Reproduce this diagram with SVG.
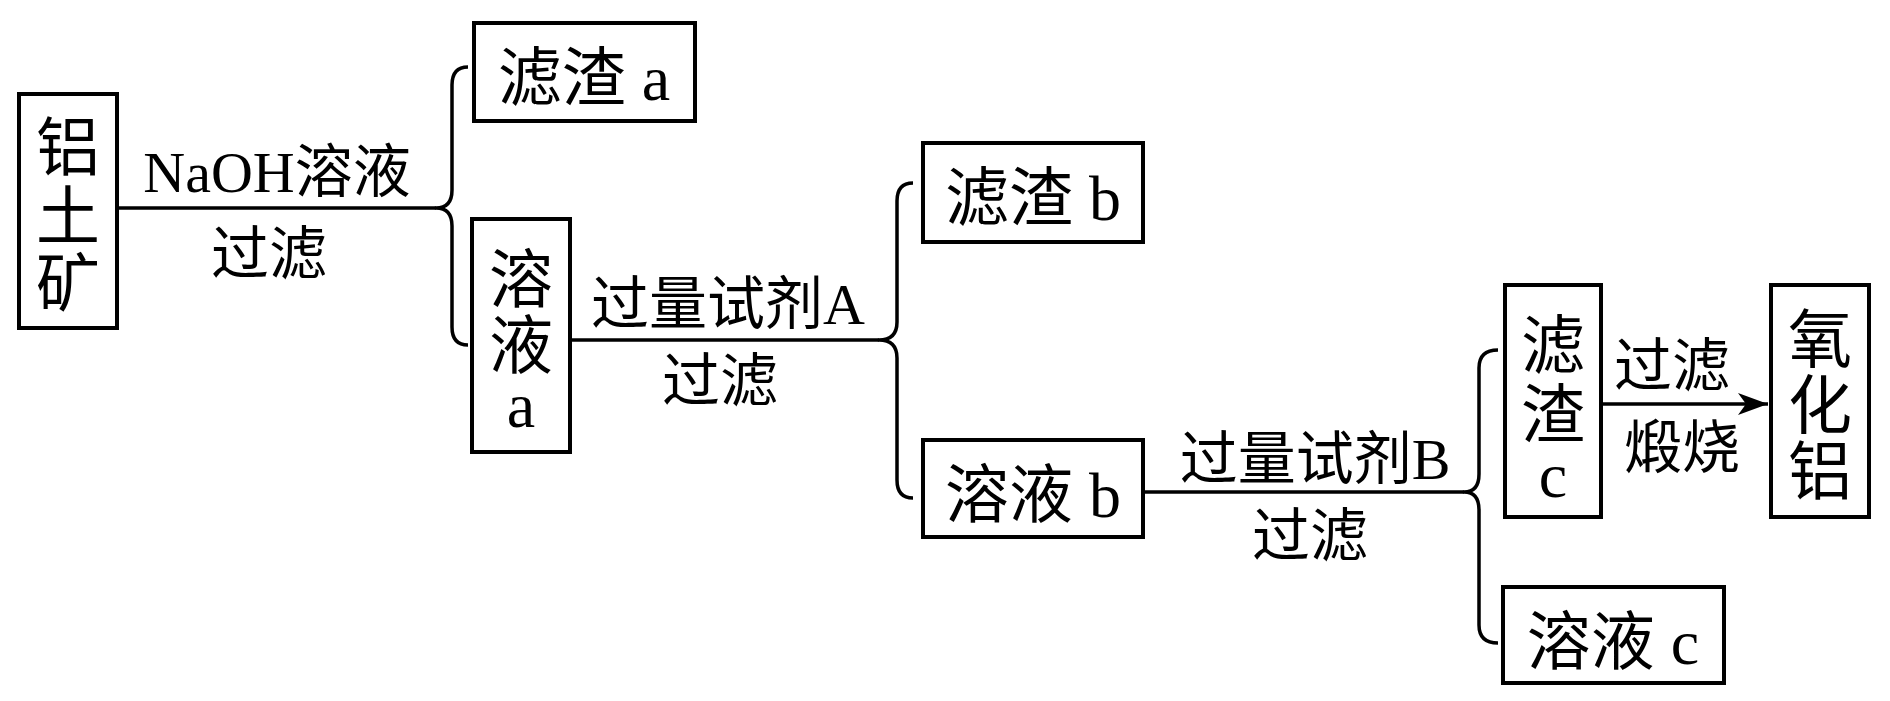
<svg xmlns="http://www.w3.org/2000/svg" width="1890" height="701" viewBox="0 0 1890 701">
<style>
.box{fill:#fff;stroke:#000;stroke-width:4}
.bt{font-family:"Liberation Serif","Noto Sans CJK SC",serif;font-size:64px;fill:#000;text-anchor:middle}
.lb{font-family:"Liberation Serif","Noto Sans CJK SC",serif;font-size:58px;fill:#000;text-anchor:middle}
.ln{fill:none;stroke:#000;stroke-width:3.5;stroke-linejoin:round}
</style>
<defs>
<marker id="arr" markerUnits="userSpaceOnUse" markerWidth="32" markerHeight="24" refX="30" refY="12" orient="auto">
<path d="M0,1 L30,12 L0,23 L8,12 Z" fill="#000"/>
</marker>
</defs>
<rect width="1890" height="701" fill="#fff"/>
<g id="connectors">
<path class="ln" d="M117,208 H436"/>
<path class="ln" d="M468,67 Q452,67 452,85 V190 Q452,208 436,208 Q452,208 452,226 V327 Q452,345 468,345"/>
<path class="ln" d="M570,340 H879"/>
<path class="ln" d="M913,183 Q897,183 897,201 V322 Q897,340 879,340 Q897,340 897,358 V480 Q897,498 913,498"/>
<path class="ln" d="M1143,492 H1464"/>
<path class="ln" d="M1498,350 Q1479,350 1479,368 V474 Q1479,492 1464,492 Q1479,492 1479,510 V625 Q1479,643 1498,643"/>
<path class="ln" d="M1601,404 H1768" marker-end="url(#arr)"/>
<text class="lb" x="277" y="192">NaOH溶液</text>
<text class="lb" x="269" y="274">过滤</text>
<text class="lb" x="728" y="324">过量试剂A</text>
<text class="lb" x="720" y="401">过滤</text>
<text class="lb" x="1315" y="479">过量试剂B</text>
<text class="lb" x="1310" y="556">过滤</text>
<text class="lb" x="1672" y="386">过滤</text>
<text class="lb" x="1682" y="468">煅烧</text>
</g>
<g id="n1">
<rect class="box" x="19" y="94" width="98" height="234"/>
<text class="bt" x="68" y="170">铝</text>
<text class="bt" x="68" y="239">土</text>
<text class="bt" x="68" y="306">矿</text>
</g>
<g id="n2">
<rect class="box" x="474" y="23" width="221" height="98"/>
<text class="bt" x="584" y="100">滤渣 a</text>
</g>
<g id="n3">
<rect class="box" x="472" y="219" width="98" height="233"/>
<text class="bt" x="521" y="302">溶</text>
<text class="bt" x="521" y="368">液</text>
<text class="bt" x="521" y="427">a</text>
</g>
<g id="n4">
<rect class="box" x="923" y="143" width="220" height="99"/>
<text class="bt" x="1033" y="220">滤渣 b</text>
</g>
<g id="n5">
<rect class="box" x="923" y="440" width="220" height="97"/>
<text class="bt" x="1033" y="517">溶液 b</text>
</g>
<g id="n6">
<rect class="box" x="1505" y="285" width="96" height="232"/>
<text class="bt" x="1553" y="368">滤</text>
<text class="bt" x="1553" y="437">渣</text>
<text class="bt" x="1553" y="497">c</text>
</g>
<g id="n7">
<rect class="box" x="1771" y="285" width="98" height="232"/>
<text class="bt" x="1820" y="362">氧</text>
<text class="bt" x="1820" y="428">化</text>
<text class="bt" x="1820" y="494">铝</text>
</g>
<g id="n8">
<rect class="box" x="1503" y="587" width="221" height="96"/>
<text class="bt" x="1613" y="664">溶液 c</text>
</g>
</svg>
